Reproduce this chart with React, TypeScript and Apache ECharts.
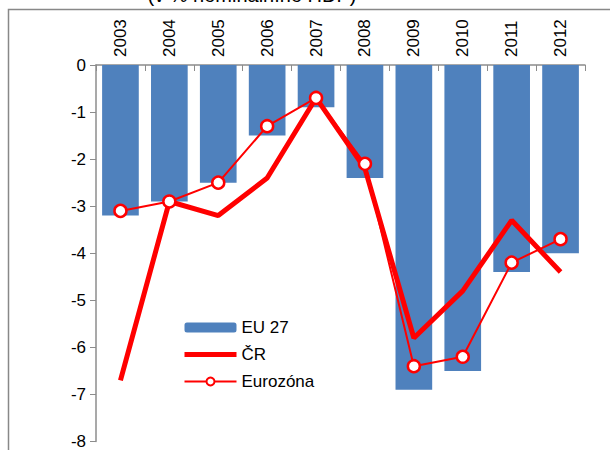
import React, { useEffect, useRef } from "react";
import * as echarts from "echarts";

const years = ["2003", "2004", "2005", "2006", "2007", "2008", "2009", "2010", "2011", "2012"];
const eu27 = [-3.2, -2.9, -2.5, -1.5, -0.9, -2.4, -6.9, -6.5, -4.4, -4.0];
const cr = [-6.7, -2.9, -3.2, -2.4, -0.7, -2.2, -5.8, -4.8, -3.3, -4.4];
const eurozona = [-3.1, -2.9, -2.5, -1.3, -0.7, -2.1, -6.4, -6.2, -4.2, -3.7];
const titleText = "(v % nominálního HDP)";

const FONT = "'Liberation Sans', Arial, sans-serif";

export default function App() {
  const ref = useRef<HTMLDivElement>(null);
  useEffect(() => {
    if (!ref.current) return;
    const chart = echarts.init(ref.current, undefined, { renderer: "svg" });
    chart.setOption({
      animation: false,
      backgroundColor: "#ffffff",
      textStyle: { fontFamily: FONT },
      graphic: [
        {
          type: "rect",
          shape: { x: 8.5, y: 9.5, width: 700, height: 500 },
          style: { fill: "none", stroke: "#888888", lineWidth: 1.5 },
          z: -1,
        },
        {
          type: "text",
          x: 252,
          y: -15,
          style: {
            text: titleText,
            font: `20px ${FONT}`,
            fill: "#000",
            textAlign: "center",
            textVerticalAlign: "top",
          },
        },
      ],
      grid: { left: 96, right: 25, top: 65, bottom: 7, containLabel: false },
      legend: {
        data: [
          { name: "EU 27" },
          { name: "ČR", itemStyle: { opacity: 0 }, lineStyle: { width: 5, color: "#FF0000", opacity: 1 } },
          { name: "Eurozóna", lineStyle: { width: 2, color: "#FF0000" } },
        ],
        orient: "vertical",
        left: 177,
        top: 314,
        itemWidth: 52,
        itemHeight: 10,
        itemGap: 10,
        textStyle: { fontSize: 17, color: "#000", fontFamily: FONT },
      },
      xAxis: {
        type: "category",
        data: years,
        position: "top",
        axisLine: { lineStyle: { color: "#8c8c8c", width: 1.5 } },
        axisTick: { show: true, inside: true, length: 6, lineStyle: { color: "#8c8c8c" } },
        axisLabel: { rotate: 90, fontSize: 17, color: "#000", margin: 8, fontFamily: FONT },
        splitLine: { show: false },
      },
      yAxis: {
        type: "value",
        min: -8,
        max: 0,
        interval: 1,
        axisLine: { show: true, lineStyle: { color: "#8c8c8c", width: 1.5 } },
        axisTick: { show: true, length: 6, lineStyle: { color: "#8c8c8c" } },
        axisLabel: { fontSize: 17, color: "#000", margin: 10, fontFamily: FONT },
        splitLine: { show: false },
      },
      series: [
        {
          name: "EU 27",
          type: "bar",
          data: eu27,
          barCategoryGap: "25%",
          itemStyle: { color: "#4F81BD" },
        },
        {
          name: "ČR",
          type: "line",
          data: cr,
          symbol: "none",
          lineStyle: { color: "#FF0000", width: 5 },
          itemStyle: { color: "#FF0000" },
        },
        {
          name: "Eurozóna",
          type: "line",
          data: eurozona,
          symbol: "circle",
          symbolSize: 12,
          lineStyle: { color: "#FF0000", width: 2 },
          itemStyle: { color: "#ffffff", borderColor: "#FF0000", borderWidth: 2.5 },
        },
      ],
    });
    return () => chart.dispose();
  }, []);
  return (
    <div
      ref={ref}
      style={{ position: "absolute", left: 0, top: 0, width: 610, height: 450 }}
    />
  );
}
